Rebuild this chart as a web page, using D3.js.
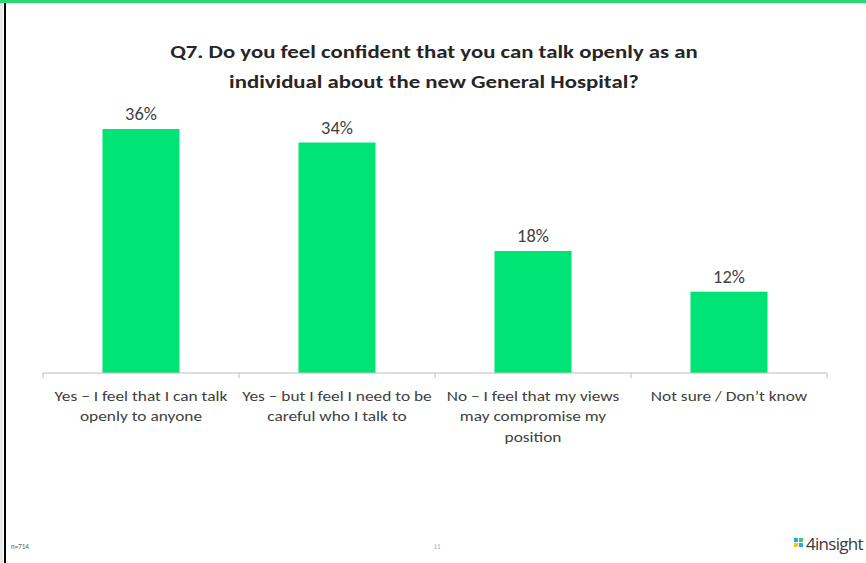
<!DOCTYPE html>
<html>
<head>
<meta charset="utf-8">
<script src="https://cdn.jsdelivr.net/npm/d3@7"></script>
<style>
  html, body { margin: 0; padding: 0; background: #fff; }
  svg { display: block; }
</style>
</head>
<body>
<svg id="chart" width="866" height="563"></svg>
<script>
// Survey responses for Q7
const categories = [
  ["Yes \u2013 I feel that  I can talk", "openly to anyone"],
  ["Yes \u2013 but I feel I need to be", "careful who I talk to"],
  ["No \u2013 I feel that my views", "may compromise my", "position"],
  ["Not sure / Don\u2019t know"]
];
const values = [36, 34, 18, 12];
const titleLines = [
  "Q7. Do you feel confident that you can talk openly as an",
  "individual about the new General Hospital?"
];

const svg = d3.select("#chart");
const W = 866, H = 563;
const font = "Carlito, Lato, 'Open Sans', sans-serif";

// widen text horizontally around its anchor x
function stretch(sel, cx, s) {
  sel.attr("transform", `translate(${cx},0) scale(${s},1) translate(${-cx},0)`);
}

// slide frame: green top rule and dark left edge
svg.append("rect").attr("x", 0).attr("y", 0).attr("width", W).attr("height", 3).attr("fill", "#2bd67b");
svg.append("rect").attr("x", 0).attr("y", 3).attr("width", W).attr("height", 1).attr("fill", "#c9f5dd");
svg.append("rect").attr("x", 0).attr("y", 3).attr("width", 3).attr("height", H).attr("fill", "#e8e8e8");
svg.append("rect").attr("x", 4).attr("y", 3).attr("width", 2).attr("height", H).attr("fill", "#000");

// title
svg.append("g").selectAll("text").data(titleLines).join("text")
  .attr("x", 434).attr("y", (d, i) => 58 + i * 30)
  .attr("text-anchor", "middle")
  .attr("font-family", font).attr("font-weight", "bold").attr("font-size", 19)
  .attr("fill", "#262626")
  .text(d => d)
  .each(function() { stretch(d3.select(this), 434, 1.2); });

const idx = d3.range(categories.length);
const x = d3.scaleBand().domain(idx).range([43, 827]).paddingInner(0.607).paddingOuter(0.3035);
const y = d3.scaleLinear().domain([0, 36]).range([373, 129]);

// bars
svg.append("g").selectAll("rect").data(values).join("rect")
  .attr("x", (d, i) => x(i))
  .attr("y", d => y(d))
  .attr("width", x.bandwidth())
  .attr("height", d => y(0) - y(d))
  .attr("fill", "#00e375");

// value labels
svg.append("g").selectAll("text").data(values).join("text")
  .attr("x", (d, i) => x(i) + x.bandwidth() / 2)
  .attr("y", d => y(d) - 9)
  .attr("text-anchor", "middle")
  .attr("font-family", font).attr("font-size", 17.5)
  .attr("fill", "#404040")
  .text(d => d + "%")
  .each(function(d, i) { stretch(d3.select(this), x(i) + x.bandwidth() / 2, 1.05); });

// category axis
const step = (827 - 43) / categories.length;
const axis = svg.append("g");
axis.append("line").attr("x1", 43).attr("x2", 827).attr("y1", 373).attr("y2", 373)
  .attr("stroke", "#bdbdbd").attr("stroke-width", 1.2);
axis.selectAll("line.tick").data(d3.range(categories.length + 1)).join("line")
  .attr("class", "tick")
  .attr("x1", d => 43 + d * step).attr("x2", d => 43 + d * step)
  .attr("y1", 373).attr("y2", 378)
  .attr("stroke", "#bdbdbd").attr("stroke-width", 1);

const labels = axis.selectAll("text.cat").data(categories).join("text")
  .attr("class", "cat")
  .attr("text-anchor", "middle")
  .attr("font-family", font).attr("font-size", 14)
  .attr("fill", "#404040");
labels.each(function(lines, i) {
  const cx = x(i) + x.bandwidth() / 2;
  d3.select(this).selectAll("tspan").data(lines).join("tspan")
    .attr("x", cx)
    .attr("y", (d, j) => 401 + j * 20.5)
    .text(d => d);
  stretch(d3.select(this), cx, 1.24);
});

// footer
svg.append("text").attr("x", 11).attr("y", 549)
  .attr("font-family", font).attr("font-size", 7).attr("fill", "#555")
  .text("n=714");
svg.append("text").attr("x", 437).attr("y", 549).attr("text-anchor", "middle")
  .attr("font-family", font).attr("font-size", 7).attr("fill", "#aaa")
  .text("11");

// logo
const logo = svg.append("g").attr("transform", "translate(794,538)");
const sq = [[0, 0, "#2aa7e0"], [5, 0, "#3ccf6e"], [0, 5, "#f5c518"], [5, 5, "#2aa7e0"]];
logo.selectAll("rect").data(sq).join("rect")
  .attr("x", d => d[0]).attr("y", d => d[1]).attr("width", 4).attr("height", 4).attr("fill", d => d[2]);
logo.append("text").attr("x", 12).attr("y", 12)
  .attr("font-family", "'Open Sans', sans-serif").attr("font-size", 17).attr("fill", "#3a3a3a")
  .attr("letter-spacing", -0.7)
  .text("4insight");
</script>
</body>
</html>
